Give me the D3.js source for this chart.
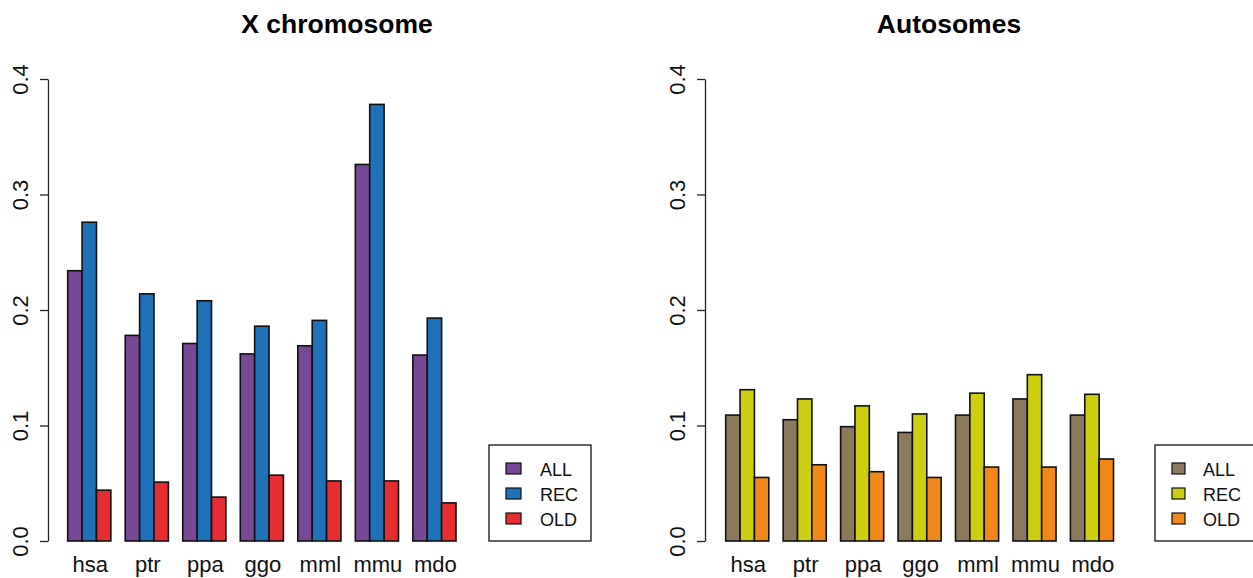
<!DOCTYPE html>
<html>
<head>
<meta charset="utf-8">
<script src="https://cdn.jsdelivr.net/npm/d3@7"></script>
<style>
  html, body { margin: 0; padding: 0; background: #fff; }
  svg { display: block; font-family: "Liberation Sans", Arial, Helvetica, sans-serif; }
</style>
</head>
<body>
<svg id="chart" width="1253" height="578"></svg>
<script>
// ---- data ----
const categories = ["hsa", "ptr", "ppa", "ggo", "mml", "mmu", "mdo"];
const seriesNames = ["ALL", "REC", "OLD"];
const yTicks = [0.0, 0.1, 0.2, 0.3, 0.4];

const xChrALL = [0.234, 0.178, 0.171, 0.162, 0.169, 0.326, 0.161];
const xChrREC = [0.276, 0.214, 0.208, 0.186, 0.191, 0.378, 0.193];
const xChrOLD = [0.044, 0.051, 0.038, 0.057, 0.052, 0.052, 0.033];

const autoALL = [0.109, 0.105, 0.099, 0.094, 0.109, 0.123, 0.109];
const autoREC = [0.131, 0.123, 0.117, 0.110, 0.128, 0.144, 0.127];
const autoOLD = [0.055, 0.066, 0.060, 0.055, 0.064, 0.064, 0.071];

const xColors = ["#774895", "#1f71b8", "#e52d32"];
const autoColors = ["#8b7a5e", "#cece10", "#f1891a"];

// ---- drawing ----
const svg = d3.select("#chart");

const y = d3.scaleLinear().domain([0, 0.4]).range([541, 79]);

function panel(cfg) {
  const g = svg.append("g");
  const x0 = d3.scaleBand().domain(categories)
    .range([cfg.barsLeft, cfg.barsRight]).paddingInner(0.25).paddingOuter(0);
  const x1 = d3.scaleBand().domain(seriesNames).range([0, x0.bandwidth()]).padding(0);
  const color = d3.scaleOrdinal().domain(seriesNames).range(cfg.colors);

  // title
  g.append("text")
    .attr("x", cfg.titleX).attr("y", 33)
    .attr("text-anchor", "middle")
    .attr("font-size", "26.5px").attr("font-weight", "bold")
    .text(cfg.title);

  // bars
  const rows = categories.map((c, i) => ({cat: c, vals: cfg.series.map((s, j) => ({name: seriesNames[j], v: s[i]}))}));
  const grp = g.selectAll("g.grp").data(rows).enter().append("g")
    .attr("transform", d => `translate(${x0(d.cat)},0)`);
  grp.selectAll("rect").data(d => d.vals).enter().append("rect")
    .attr("x", d => x1(d.name))
    .attr("y", d => y(d.v))
    .attr("width", x1.bandwidth())
    .attr("height", d => y(0) - y(d.v))
    .attr("fill", d => color(d.name))
    .attr("stroke", "#111").attr("stroke-width", 1.6);

  // category labels
  g.selectAll("text.cat").data(categories).enter().append("text")
    .attr("class", "cat")
    .attr("x", d => x0(d) + x0.bandwidth() / 2 + 1)
    .attr("y", 572)
    .attr("text-anchor", "middle")
    .attr("font-size", "22px")
    .attr("fill", "#111")
    .text(d => d);

  // y axis
  const ax = g.append("g").attr("transform", `translate(${cfg.axisX},0)`)
    .call(d3.axisLeft(y).tickValues(yTicks).tickFormat(d3.format(".1f")).tickSize(8).tickSizeOuter(0));
  ax.select(".domain").attr("stroke", "#222").attr("stroke-width", 1.3);
  ax.selectAll(".tick line").attr("stroke", "#222").attr("stroke-width", 1.3);
  ax.selectAll(".tick text")
    .attr("x", null).attr("dy", null).attr("y", null)
    .attr("transform", "translate(-20,0) rotate(-90)")
    .attr("text-anchor", "middle")
    .attr("font-size", "22px")
    .attr("font-family", "Liberation Sans, Arial, sans-serif")
    .attr("fill", "#111");

  // legend
  const L = cfg.legend;
  g.append("rect").attr("x", L.x).attr("y", L.y).attr("width", L.w).attr("height", L.h)
    .attr("fill", "none").attr("stroke", "#111").attr("stroke-width", 1.3);
  const li = g.selectAll("g.leg").data(seriesNames).enter().append("g")
    .attr("transform", (d, i) => `translate(0,${L.firstBase + i * 25})`);
  li.append("rect")
    .attr("x", L.swX).attr("y", -13).attr("width", L.swW).attr("height", 11)
    .attr("fill", d => color(d)).attr("stroke", "#111").attr("stroke-width", 1.2);
  li.append("text").attr("x", L.textX).attr("y", 0)
    .attr("font-size", "18px").attr("fill", "#111").text(d => d);
}

panel({
  title: "X chromosome", titleX: 337,
  barsLeft: 67.7, barsRight: 456,
  axisX: 48,
  series: [xChrALL, xChrREC, xChrOLD],
  colors: xColors,
  legend: {x: 489, y: 445, w: 102, h: 96, swX: 506, swW: 15, textX: 540, firstBase: 476}
});

panel({
  title: "Autosomes", titleX: 949,
  barsLeft: 725.7, barsRight: 1113.5,
  axisX: 705,
  series: [autoALL, autoREC, autoOLD],
  colors: autoColors,
  legend: {x: 1155, y: 445, w: 110, h: 96, swX: 1172, swW: 13, textX: 1203, firstBase: 476}
});
</script>
</body>
</html>
